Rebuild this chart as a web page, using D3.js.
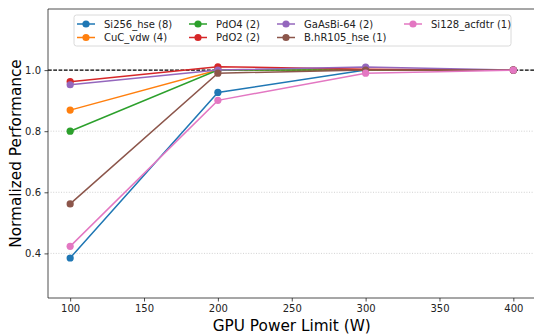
<!DOCTYPE html>
<html>
<head>
<meta charset="utf-8">
<script src="https://cdn.jsdelivr.net/npm/d3@7"></script>
<style>
body { margin: 0; background: white; }
text { font-family: "DejaVu Sans", sans-serif; }
</style>
</head>
<body>
<svg id="svg" width="534" height="335"></svg>
<script>
// power limits (W)
var powerLimits = [100, 200, 300, 400];

// series names and values
var seriesNames = ["Si256_hse (8)", "CuC_vdw (4)", "PdO4 (2)", "PdO2 (2)",
                   "GaAsBi-64 (2)", "B.hR105_hse (1)", "Si128_acfdtr (1)"];
var si256   = [0.385, 0.927, 1.0, 1.0];
var cuc     = [0.869, 1.0, 1.0, 1.0];
var pdo4    = [0.800, 1.0, 1.0, 1.0];
var pdo2    = [0.962, 1.011, 1.003, 1.0];
var gaasbi  = [0.952, 1.0, 1.010, 1.0];
var bhr105  = [0.562, 0.990, 1.0, 1.0];
var si128   = [0.423, 0.901, 0.990, 1.0];
var seriesValues = [si256, cuc, pdo4, pdo2, gaasbi, bhr105, si128];
var colors = ["#1f77b4", "#ff7f0e", "#2ca02c", "#d62728", "#9467bd", "#8c564b", "#e377c2"];

var xTicks = [100, 150, 200, 250, 300, 350, 400];
var yTicks = [0.4, 0.6, 0.8, 1.0];

//////////////////////////////////////////////////////////////////////////////

var plotL = 48, plotR = 535.5, plotT = 9, plotB = 298;

var x = d3.scaleLinear().domain([85, 415]).range([plotL, plotR]);
var y = d3.scaleLinear().domain([0.254, 1.2]).range([plotB, plotT]);

var svg = d3.select("#svg");

// grid lines
svg.append("g").selectAll("line")
    .data(yTicks)
    .enter().append("line")
    .attr("x1", plotL).attr("x2", plotR)
    .attr("y1", function(d) { return y(d); })
    .attr("y2", function(d) { return y(d); })
    .attr("stroke", "#b0b0b0")
    .attr("stroke-width", 0.8)
    .attr("stroke-dasharray", "1,1.6")
    .attr("opacity", 0.7);

// reference line at 1.0
svg.append("line")
    .attr("x1", plotL).attr("x2", plotR)
    .attr("y1", y(1.0)).attr("y2", y(1.0))
    .attr("stroke", "black")
    .attr("stroke-width", 1.1)
    .attr("stroke-dasharray", "3.7,1.6");

var line = d3.line()
    .x(function(d, i) { return x(powerLimits[i]); })
    .y(function(d) { return y(d); });

for (var s = 0; s < seriesValues.length; ++s) {
    var g = svg.append("g");
    g.append("path")
        .attr("d", line(seriesValues[s]))
        .attr("fill", "none")
        .attr("stroke", colors[s])
        .attr("stroke-width", 1.5);
    g.selectAll("circle")
        .data(seriesValues[s])
        .enter().append("circle")
        .attr("cx", function(d, i) { return x(powerLimits[i]); })
        .attr("cy", function(d) { return y(d); })
        .attr("r", 3.6)
        .attr("fill", colors[s]);
}

// axes
var xAxis = svg.append("g")
    .attr("transform", "translate(0," + plotB + ")")
    .call(d3.axisBottom(x).tickValues(xTicks).tickSize(3.5).tickPadding(3.5));
var yAxis = svg.append("g")
    .attr("transform", "translate(" + plotL + ",0)")
    .call(d3.axisLeft(y).tickValues(yTicks).tickFormat(d3.format(".1f")).tickSize(3.5).tickPadding(3.5));

[xAxis, yAxis].forEach(function(a) {
    a.selectAll("text").attr("font-size", 10).attr("fill", "#222")
        .attr("font-family", "DejaVu Sans");
    a.select(".domain").attr("stroke-width", 0.8).attr("stroke", "#222");
    a.selectAll(".tick line").attr("stroke-width", 0.8).attr("stroke", "#222");
});
xAxis.select(".domain").attr("d", "M" + plotL + ",0H" + plotR);
yAxis.select(".domain").attr("d", "M0," + plotT + "V" + plotB);

// top and right spines
svg.append("line").attr("x1", plotL).attr("x2", plotR).attr("y1", plotT).attr("y2", plotT)
    .attr("stroke", "#222").attr("stroke-width", 0.8);
svg.append("line").attr("x1", plotR - 0.5).attr("x2", plotR - 0.5).attr("y1", plotT).attr("y2", plotB)
    .attr("stroke", "#222").attr("stroke-width", 0.8);

// axis labels
svg.append("text")
    .attr("x", (plotL + plotR) / 2 + 0)
    .attr("y", 331)
    .attr("text-anchor", "middle")
    .attr("font-size", 15.3)
    .text("GPU Power Limit (W)");
svg.append("text")
    .attr("transform", "translate(21," + ((plotT + plotB) / 2) + ") rotate(-90)")
    .attr("text-anchor", "middle")
    .attr("font-size", 15.3)
    .text("Normalized Performance");

// legend
var legend = svg.append("g");
legend.append("rect")
    .attr("x", 74).attr("y", 15).attr("width", 437).attr("height", 31)
    .attr("rx", 2.5)
    .attr("fill", "white").attr("fill-opacity", 0.8)
    .attr("stroke", "#d0d0d0").attr("stroke-width", 0.8);

var colX = [86, 198, 286, 413];
var rowY = [24, 37.5];
for (var k = 0; k < seriesNames.length; ++k) {
    var cx = colX[Math.floor(k / 2)], cy = rowY[k % 2];
    legend.append("line")
        .attr("x1", cx - 9).attr("x2", cx + 9)
        .attr("y1", cy).attr("y2", cy)
        .attr("stroke", colors[k]).attr("stroke-width", 1.5);
    legend.append("circle")
        .attr("cx", cx).attr("cy", cy).attr("r", 3.6)
        .attr("fill", colors[k]);
    legend.append("text")
        .attr("x", cx + 18).attr("y", cy + 3.6)
        .attr("font-size", 10)
        .attr("fill", "#222")
        .text(seriesNames[k]);
}
</script>
</body>
</html>
